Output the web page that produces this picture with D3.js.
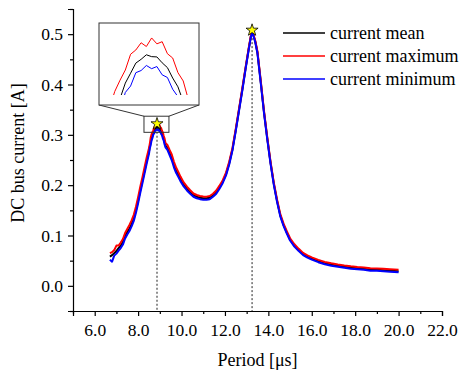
<!DOCTYPE html>
<html><head><meta charset="utf-8">
<script src="https://cdn.jsdelivr.net/npm/d3@7"></script>
<style>
html,body{margin:0;padding:0;background:#fff;}
svg text{font-family:"Liberation Serif","Times New Roman",serif;fill:#000;}
</style></head>
<body><svg id="c" width="459" height="373"></svg>
<script>
// ---------- data ----------
const period = [6.70,6.80,6.90,7.00,7.10,7.20,7.30,7.40,7.50,7.60,7.70,7.80,7.90,8.00,8.10,8.20,8.30,8.40,
  8.50,8.54,8.58,8.62,8.66,8.70,8.74,8.78,8.82,8.86,8.90,8.94,8.98,9.02,9.06,9.10,9.14,9.18,9.22,9.26,
  9.35,9.45,9.55,9.65,9.75,9.85,9.95,10.10,10.25,10.40,10.55,10.70,10.85,11.00,11.15,11.30,11.45,11.60,11.75,11.90,
  12.05,12.20,12.35,12.50,12.65,12.80,12.95,13.10,13.20,13.25,13.30,13.40,13.50,13.65,13.80,13.95,14.10,14.25,14.40,
  14.55,14.70,14.85,15.00,15.20,15.40,15.60,15.80,16.00,16.30,16.60,16.90,17.20,17.50,17.80,18.10,18.40,18.70,19.00,19.30,19.60,20.00];
const currentMean = [0.058,0.061,0.065,0.069,0.075,0.080,0.087,0.099,0.107,0.114,0.123,0.134,0.150,0.169,0.190,0.209,0.229,0.249,
  0.2668,0.2770,0.2845,0.2926,0.2983,0.3041,0.3078,0.3116,0.3130,0.3147,0.3140,0.3139,0.3117,0.3099,0.3060,0.3027,0.2972,0.2924,0.2852,0.2787,
  0.2745,0.2640,0.2545,0.2400,0.2290,0.2210,0.2120,0.2010,0.1930,0.1860,0.1800,0.1770,0.1750,0.1740,0.1740,0.1750,0.1800,0.1860,0.1960,0.2070,
  0.2220,0.2440,0.2720,0.3100,0.3500,0.3900,0.4320,0.4720,0.4970,0.5030,0.5000,0.4850,0.4630,0.4050,0.3450,0.2930,0.2450,0.2030,0.1690,
  0.1400,0.1210,0.1060,0.0920,0.0800,0.0710,0.0630,0.0580,0.0540,0.0490,0.0450,0.0420,0.0400,0.0380,0.0360,0.0350,0.0340,0.0320,0.0320,0.0310,0.0300,0.0290];
const currentMax = [0.065,0.067,0.071,0.080,0.080,0.086,0.093,0.105,0.113,0.121,0.130,0.141,0.157,0.176,0.197,0.216,0.236,0.256,
  0.2735,0.2822,0.2948,0.3010,0.3052,0.3090,0.3149,0.3165,0.3192,0.3178,0.3210,0.3188,0.3196,0.3151,0.3135,0.3080,0.3049,0.2978,0.2925,0.2838,
  0.2800,0.2700,0.2610,0.2465,0.2350,0.2265,0.2170,0.2055,0.1970,0.1900,0.1835,0.1805,0.1785,0.1775,0.1772,0.1785,0.1830,0.1895,0.1990,0.2100,
  0.2250,0.2470,0.2745,0.3120,0.3520,0.3920,0.4335,0.4735,0.4985,0.5045,0.5015,0.4865,0.4650,0.4070,0.3470,0.2950,0.2470,0.2055,0.1715,
  0.1425,0.1235,0.1085,0.0945,0.0825,0.0735,0.0655,0.0605,0.0565,0.0515,0.0475,0.0448,0.0425,0.0405,0.0388,0.0375,0.0365,0.0350,0.0345,0.0338,0.0330,0.0322];
const currentMin = [0.052,0.048,0.060,0.064,0.070,0.075,0.082,0.094,0.102,0.109,0.118,0.129,0.145,0.164,0.185,0.204,0.224,0.244,
  0.2622,0.2734,0.2800,0.2890,0.2937,0.3006,0.3030,0.3080,0.3088,0.3107,0.3095,0.3103,0.3072,0.3062,0.3018,0.2990,0.2926,0.2887,0.2808,0.2752,
  0.2700,0.2595,0.2495,0.2355,0.2245,0.2165,0.2080,0.1975,0.1895,0.1830,0.1770,0.1740,0.1722,0.1712,0.1710,0.1722,0.1770,0.1830,0.1930,0.2045,
  0.2195,0.2415,0.2700,0.3080,0.3480,0.3880,0.4305,0.4705,0.4955,0.5015,0.4985,0.4835,0.4610,0.4030,0.3430,0.2910,0.2430,0.2010,0.1670,
  0.1380,0.1190,0.1040,0.0900,0.0780,0.0690,0.0610,0.0560,0.0520,0.0470,0.0430,0.0400,0.0380,0.0360,0.0340,0.0330,0.0320,0.0300,0.0300,0.0290,0.0280,0.0270];
const seriesNames = ["current mean","current maximum","current minimum"];
const peakPeriods = [8.87, 13.25];
const peakValues = [0.322, 0.508];
const xTicks = [6,8,10,12,14,16,18,20,22];
const yTicks = [0,0.1,0.2,0.3,0.4,0.5];
const zoomWindow = {x0:8.27, x1:9.42, y0:0.305, y1:0.337};
const insetDomainX = [8.50, 9.26];
const insetDomainY = [0.2959, 0.3266];

// ---------- layout ----------
const FONT = "Liberation Serif, Times New Roman, serif";
const svg = d3.select("#c");
const L=73, R=442, T=9, B=311;
const x = d3.scaleLinear([5,22],[L,R]);
const y = d3.scaleLinear([-0.05,0.55],[B,T]);
const colors = ["#000000","#ff0000","#0000ff"];
const series = [currentMean,currentMax,currentMin];

// axes
const xAxis = svg.append("g").attr("transform",`translate(0,${B})`)
  .call(d3.axisBottom(x).tickValues(xTicks).tickFormat(d3.format(".1f")).tickSizeOuter(0).tickSize(5).tickPadding(8));
const yAxis = svg.append("g").attr("transform",`translate(${L},0)`)
  .call(d3.axisLeft(y).tickValues(yTicks).tickFormat(d3.format(".1f")).tickSizeOuter(0).tickSize(5).tickPadding(5));
[xAxis,yAxis].forEach(a=>{
  a.attr("font-family",FONT).attr("font-size",17.5);
  a.selectAll("text").attr("font-family",FONT).attr("font-size",17.5);
  a.select(".domain").attr("stroke-width",1.2);
  a.selectAll(".tick line").attr("stroke-width",1.2);
});
// minor ticks
svg.append("g").attr("transform",`translate(0,${B})`)
  .call(d3.axisBottom(x).tickValues(d3.range(5,22.01,2)).tickFormat("").tickSizeOuter(0).tickSize(3))
  .call(g=>{g.select(".domain").remove(); g.selectAll("line").attr("stroke-width",1.2);});
svg.append("g").attr("transform",`translate(${L},0)`)
  .call(d3.axisLeft(y).tickValues(d3.range(-0.05,0.56,0.1)).tickFormat("").tickSizeOuter(0).tickSize(3))
  .call(g=>{g.select(".domain").remove(); g.selectAll("line").attr("stroke-width",1.2);});

// titles
svg.append("text").attr("x",(L+R)/2).attr("y",366).attr("text-anchor","middle")
  .attr("font-family",FONT).attr("font-size",18).text("Period [μs]");
svg.append("text").attr("transform","translate(24,153) rotate(-90)").attr("text-anchor","middle")
  .attr("font-family",FONT).attr("font-size",18).text("DC bus current [A]");

// dotted lines
peakPeriods.forEach((p,i)=>{
  svg.append("line").attr("x1",x(p)).attr("x2",x(p)).attr("y1",y(peakValues[i])).attr("y2",B)
    .attr("stroke","#222").attr("stroke-width",1).attr("stroke-dasharray","2,2");
});

// main lines
const line = d3.line().x((d,i)=>x(period[i])).y(d=>y(d));
series.forEach((s,k)=>{
  svg.append("path").datum(s).attr("d",line).attr("fill","none")
    .attr("stroke",colors[k]).attr("stroke-width",2).attr("stroke-linejoin","round");
});

// zoom window rect
svg.append("rect").attr("x",x(zoomWindow.x0)).attr("y",y(zoomWindow.y1))
  .attr("width",x(zoomWindow.x1)-x(zoomWindow.x0)).attr("height",y(zoomWindow.y0)-y(zoomWindow.y1))
  .attr("fill","none").attr("stroke","#333").attr("stroke-width",1);

// stars
peakPeriods.forEach((p,i)=>{
  svg.append("path").attr("d",d3.symbol(d3.symbolStar,45)())
    .attr("transform",`translate(${x(p)},${y(peakValues[i])})`)
    .attr("fill","#ffff00").attr("stroke","#000").attr("stroke-width",0.8);
});

// inset
const IX0=99, IX1=199, IY0=23, IY1=105;
svg.append("line").attr("x1",IX0).attr("y1",IY1).attr("x2",x(zoomWindow.x0)).attr("y2",y(zoomWindow.y1)).attr("stroke","#333");
svg.append("line").attr("x1",IX1).attr("y1",IY1).attr("x2",x(zoomWindow.x1)).attr("y2",y(zoomWindow.y1)).attr("stroke","#333");
svg.append("rect").attr("x",IX0).attr("y",IY0).attr("width",IX1-IX0).attr("height",IY1-IY0)
  .attr("fill","#fff").attr("stroke","#333").attr("stroke-width",1);
svg.append("clipPath").attr("id","ic").append("rect").attr("x",IX0).attr("y",IY0).attr("width",IX1-IX0).attr("height",95-IY0);
const ix = d3.scaleLinear(insetDomainX,[IX0,IX1]);
const iy = d3.scaleLinear(insetDomainY,[IY1,IY0]);
const iline = d3.line().x((d,i)=>ix(period[i])).y(d=>iy(d));
const ig = svg.append("g").attr("clip-path","url(#ic)");
[1,0,2].forEach(k=>{
  ig.append("path").datum(series[k]).attr("d",iline).attr("fill","none")
    .attr("stroke",colors[k]).attr("stroke-width",1);
});

// legend
seriesNames.forEach((n,i)=>{
  const yy = 33 + i*23;
  svg.append("line").attr("x1",283).attr("x2",325).attr("y1",yy).attr("y2",yy)
    .attr("stroke",colors[i]).attr("stroke-width",1.5);
  svg.append("text").attr("x",330).attr("y",yy+6).attr("font-family",FONT).attr("font-size",18).text(n);
});
</script></body></html>
